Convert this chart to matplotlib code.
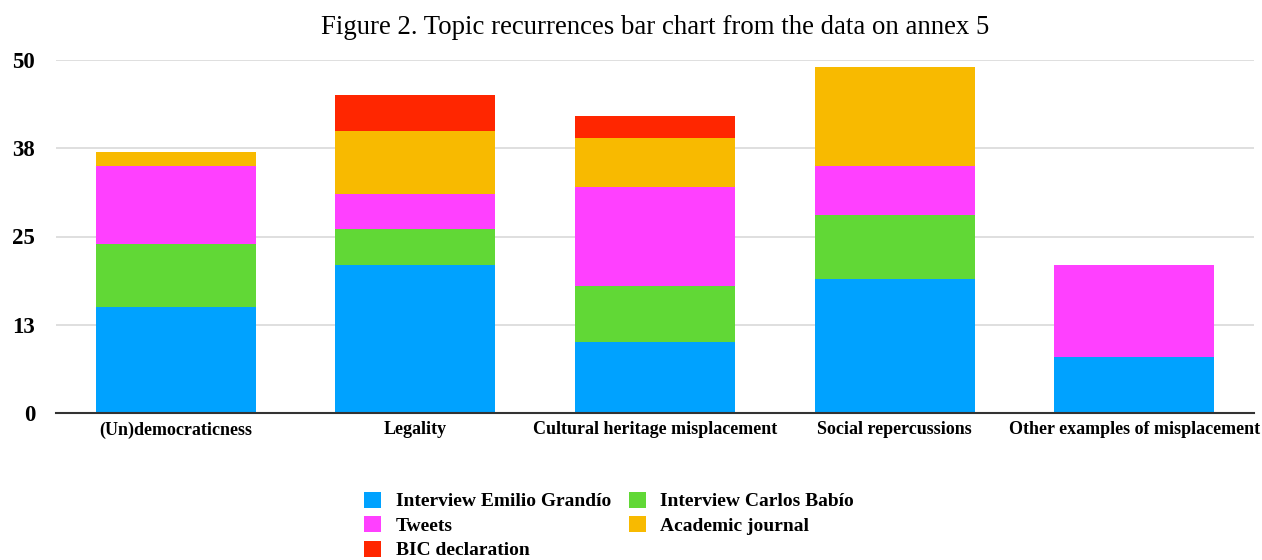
import matplotlib.pyplot as plt
import numpy as np

categories = [
    "(Un)democraticness",
    "Legality",
    "Cultural heritage misplacement",
    "Social repercussions",
    "Other examples of misplacement",
]
series_names = [
    "Interview Emilio Grandío",
    "Interview Carlos Babío",
    "Tweets",
    "Academic journal",
    "BIC declaration",
]
emilio = [15, 21, 10, 19, 8]
carlos = [9, 5, 8, 9, 0]
tweets = [11, 5, 14, 7, 13]
academic = [2, 9, 7, 14, 0]
bic = [0, 5, 3, 0, 0]
ytick_vals = [0, 12.5, 25, 37.5, 50]
ytick_labels = ["0", "13", "25", "38", "50"]

colors = ["#00A2FF", "#61D836", "#FF40FF", "#F8BA00", "#FF2600"]

plt.rcParams["font.family"] = ["Liberation Serif", "DejaVu Serif"]

fig = plt.figure(figsize=(12.62, 5.6), dpi=100)
ax = fig.add_axes([56 / 1262, 1 - 413 / 560, (1254 - 56) / 1262, (413 - 60) / 560])

x = np.arange(len(categories))
bottom = np.zeros(len(categories))
handles = []
for name, vals, c in zip(series_names, [emilio, carlos, tweets, academic, bic], colors):
    b = ax.bar(x, vals, 0.667, bottom=bottom, color=c, label=name, zorder=2)
    handles.append(b)
    bottom += np.array(vals)

ax.set_xlim(-0.5, len(categories) - 0.5)
ax.set_ylim(0, 50)
ax.set_yticks(ytick_vals)
ax.set_yticklabels(ytick_labels, fontsize=16.5, fontweight="bold")
ax.set_xticks(x)
ax.set_xticklabels(categories, fontsize=13, fontweight="bold")
ax.tick_params(length=0)
ax.tick_params(axis="y", pad=15)
ax.tick_params(axis="x", pad=6)
ax.grid(axis="y", color="#d9d9d9", lw=1.2, zorder=0)
for s in ["left", "right", "top"]:
    ax.spines[s].set_visible(False)
ax.spines["bottom"].set_color("#333333")
ax.spines["bottom"].set_linewidth(1.5)
ax.spines["bottom"].set_zorder(3)

fig.text(655 / 1262, 1 - 28 / 560, "Figure 2. Topic recurrences bar chart from the data on annex 5",
         ha="center", va="center", fontsize=19.3)

order = [0, 2, 4, 1, 3]
fig.legend([handles[i] for i in order], [series_names[i] for i in order],
           ncol=2, loc="upper center", bbox_to_anchor=(609 / 1262, 1 - 482 / 560),
           frameon=False, prop={"size": 14, "weight": "bold"},
           handlelength=0.88, handleheight=0.88, handletextpad=0.75,
           columnspacing=0.9, labelspacing=0.3, borderpad=0)

fig.savefig("out.png", dpi=100)
